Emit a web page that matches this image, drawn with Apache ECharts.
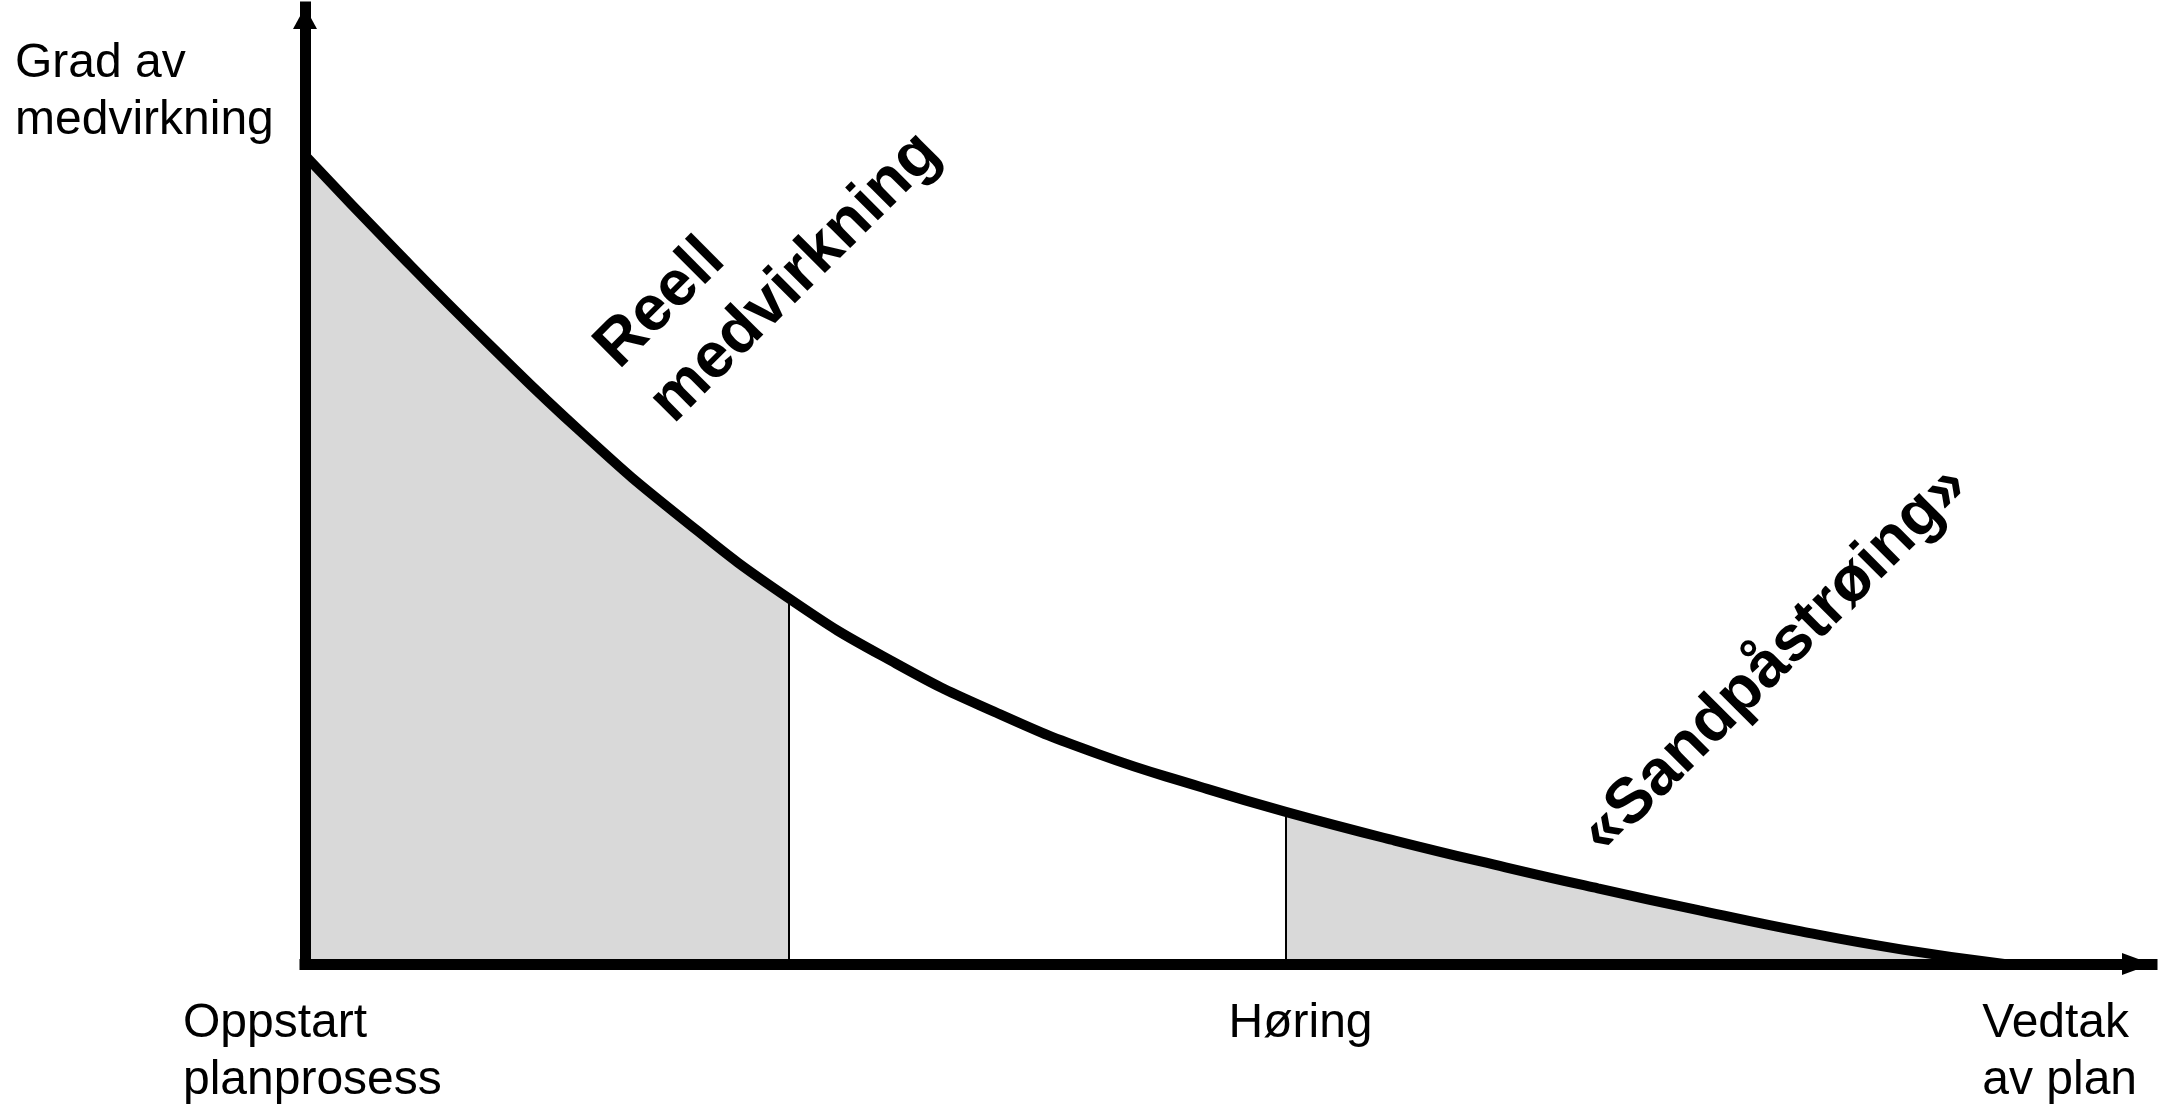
<!DOCTYPE html>
<html>
<head>
<meta charset="utf-8">
<script src="https://cdn.jsdelivr.net/npm/echarts@6/dist/echarts.min.js"></script>
<style>
html,body{margin:0;padding:0;background:#fff;}
#chart{width:2158px;height:1110px;}
</style>
</head>
<body>
<div id="chart"></div>
<script>
// ---- data ----
const curveX = [0, 5, 10, 15, 20, 26.2, 32, 37.5, 43, 48.5, 53.1, 59, 65, 70, 75.5, 81, 86.5, 92];
const curveY = [84.5, 74.4, 64.7, 55.5, 47.2, 38.2, 31.4, 26.2, 21.9, 18.5, 15.9, 12.9, 10.1, 7.9, 5.6, 3.4, 1.5, 0];
const phaseX = [26.2, 53.1];
const shadedRanges = [[0, 26.2], [53.1, 92]];
const xTickValues = [0.4, 53.9, 95];
const xTickLabels = [['Oppstart', 'planprosess'], ['Høring'], ['Vedtak', 'av plan']];
const yAxisTitle = ['Grad av', 'medvirkning'];
const annotationTexts = [['Reell', 'medvirkning'], ['«Sandpåstrøing»']];
const annotationAnchors = [[17.8, 60.5], [79.6, 31.8]];

// ---- build ----
const FONT = '"Liberation Sans", Arial, Helvetica, sans-serif';
const curveData = curveX.map((x, i) => [x, curveY[i]]);
const inShade = x => shadedRanges.some(r => x >= r[0] && x <= r[1]);
const fillData = curveX.map((x, i) => inShade(x) ? [x, curveY[i]] : [x, '-']);
const dividerLines = phaseX.map(px => {
  const y = curveY[curveX.indexOf(px)];
  return [{ coord: [px, 0] }, { coord: [px, y] }];
});

const chart = echarts.init(document.getElementById('chart'));
chart.setOption({
  animation: false,
  backgroundColor: '#fff',
  title: {
    text: yAxisTitle.join('\n'),
    left: 15, top: 35, padding: 0,
    textStyle: { fontFamily: FONT, fontSize: 48, fontWeight: 'normal', color: '#000', lineHeight: 57 }
  },
  grid: { left: 305, right: 6, top: 7, bottom: 146, outerBoundsMode: 'none', containLabel: false },
  xAxis: {
    type: 'value', min: 0, max: 100, z: 5,
    splitLine: { show: false },
    axisTick: { show: false },
    axisLine: { show: true, onZero: false, symbol: ['none', 'triangle'], symbolSize: [22, 30], symbolOffset: [0, -15],
      lineStyle: { color: '#000', width: 11, cap: 'square' } },
    axisLabel: {
      show: true, customValues: xTickValues, margin: 31,
      formatter: v => {
        const i = xTickValues.indexOf(v);
        return i < 0 ? '' : xTickLabels[i].map(s => '{l|' + s + '}').join('\n');
      },
      rich: { l: { align: 'left', fontFamily: FONT, fontSize: 48, lineHeight: 57, color: '#000' } }
    }
  },
  yAxis: {
    type: 'value', min: 0, max: 100, z: 5,
    splitLine: { show: false },
    axisTick: { show: false },
    axisLabel: { show: false },
    axisLine: { show: true, onZero: false, symbol: ['none', 'triangle'], symbolSize: [24, 22], symbolOffset: [0, -11],
      lineStyle: { color: '#000', width: 11, cap: 'square' } }
  },
  series: [
    {
      type: 'line', data: fillData, smooth: 0.5, symbol: 'none', z: 1,
      lineStyle: { width: 0 },
      areaStyle: { color: '#d9d9d9', opacity: 1 },
      silent: true
    },
    {
      type: 'line', data: curveData, smooth: 0.5, symbol: 'none', z: 3,
      lineStyle: { color: '#000', width: 10 },
      markLine: {
        silent: true, symbol: ['none', 'none'], label: { show: false },
        lineStyle: { color: '#000', width: 2, type: 'solid' },
        data: dividerLines, z: 2
      }
    }
  ]
});

const p0 = chart.convertToPixel({ gridIndex: 0 }, annotationAnchors[0]);
const p1 = chart.convertToPixel({ gridIndex: 0 }, annotationAnchors[1]);
chart.setOption({
  graphic: [
    {
      type: 'text', x: p0[0], y: p0[1], rotation: Math.PI / 4, z: 10,
      style: { text: annotationTexts[0].join('\n'), fontFamily: FONT, fontSize: 64, fontWeight: 'bold',
        lineHeight: 77, fill: '#000', align: 'left', verticalAlign: 'middle' }
    },
    {
      type: 'text', x: p1[0], y: p1[1], rotation: Math.PI / 4, z: 10,
      style: { text: annotationTexts[1].join('\n'), fontFamily: FONT, fontSize: 64, fontWeight: 'bold',
        lineHeight: 77, fill: '#000', align: 'center', verticalAlign: 'middle' }
    }
  ]
});
</script>
</body>
</html>
